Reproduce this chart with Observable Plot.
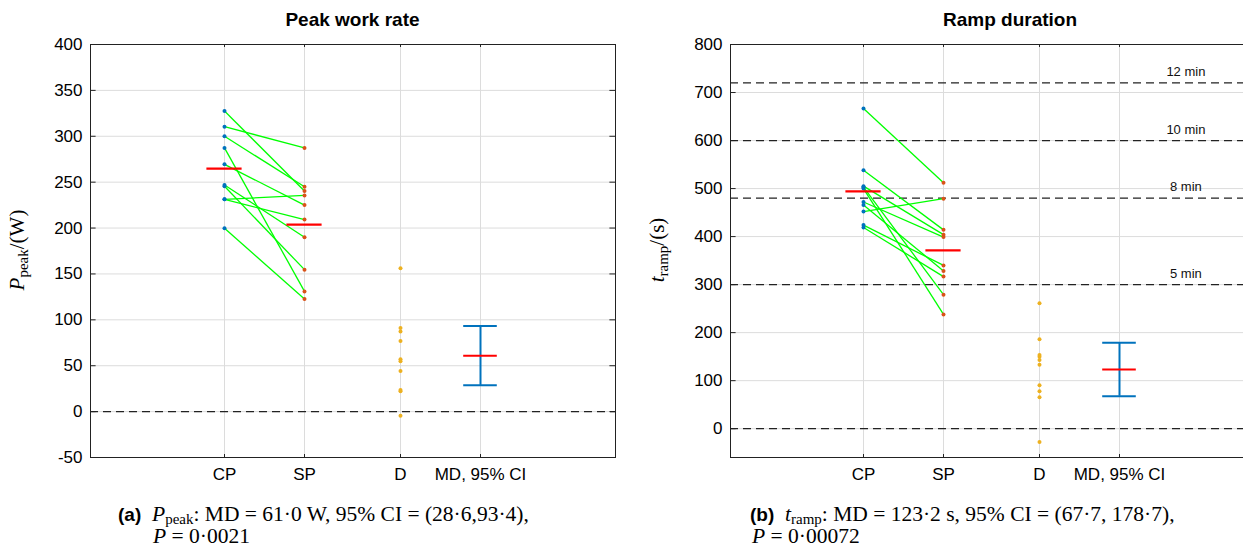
<!DOCTYPE html>
<html>
<head>
<meta charset="utf-8">
<script src="https://cdn.jsdelivr.net/npm/d3@7"></script>
<script src="https://cdn.jsdelivr.net/npm/@observablehq/plot@0.6"></script>
<style>
  html, body { margin: 0; padding: 0; background: #fff; overflow: hidden; width: 1243px; height: 548px; }
  #root { position: relative; width: 1243px; height: 548px; overflow: hidden; background: #fff; }
  .panel { position: absolute; top: 0; height: 490px; overflow: hidden; }
  .panel svg { max-width: none !important; display: block; }
  .title { position: absolute; top: 9px; font: bold 19px "Liberation Sans", Arial, sans-serif; color: #000; text-align: center; }
  .cap { position: absolute; font-family: "Liberation Serif", "DejaVu Serif", serif; font-size: 21.5px; color: #000; white-space: nowrap; line-height: 21px; }
  .cap b { font-family: "Liberation Sans", Arial, sans-serif; font-weight: bold; font-size: 19px; }
  .cap i { font-style: italic; }
  .cap sub { font-size: 15px; vertical-align: -3px; line-height: 0; }
</style>
</head>
<body>
<div id="root">
  <div class="title" style="left:90px;width:525px;">Peak work rate</div>
  <div class="title" style="left:730px;width:560px;">Ramp duration</div>
  <div id="left" class="panel" style="left:0px;width:640px;"></div>
  <div id="right" class="panel" style="left:640px;width:603px;"></div>
  <div class="cap" style="left:118px;top:504px;"><b>(a)</b>&nbsp; <i>P</i><sub>peak</sub>: MD = 61·0 W, 95% CI = (28·6,93·4),</div>
  <div class="cap" style="left:153px;top:526px;"><i>P</i> = 0·0021</div>
  <div class="cap" style="left:750px;top:504px;"><b>(b)</b>&nbsp; <i>t</i><sub>ramp</sub>: MD = 123·2 s, 95% CI = (67·7, 178·7),</div>
  <div class="cap" style="left:752px;top:526px;"><i>P</i> = 0·00072</div>
</div>
<script>
// ---- shared categories ----
const catPos = [1, 2, 3.2, 4.2];
const catLabels = ["CP", "SP", "D", "MD, 95% CI"];

// ---- Peak work rate (W) ----
const peakCP = [327.6, 310.5, 300, 287.3, 269.4, 247, 245.5, 231.3, 231.3, 199.7];
const peakSP = [240.4, 287.3, 245, 131, 225, 190, 154.7, 235.5, 209.2, 122.8];
const peakD = [156.1, 91.2, 87.2, 77, 57, 54.8, 44.3, 23.5, 22.3, -4.4];
const peakMeans = [264.8, 203.7];
const peakMD = 61.0;
const peakCI = [28.6, 93.4];
const peakTicks = [-50, 0, 50, 100, 150, 200, 250, 300, 350, 400];
const peakRefLines = [0];

// ---- Ramp duration (s) ----
const rampCP = [666.7, 538, 505, 503, 500, 472, 466, 452, 424, 419];
const rampSP = [512, 414, 404, 279, 238, 399, 328.5, 479, 340, 316.7];
const rampD = [261, 186, 153.5, 150, 143, 133.3, 90.2, 77.7, 65.2, -27.7];
const rampMeans = [494.3, 371.1];
const rampMD = 123.2;
const rampCI = [67.7, 178.7];
const rampTicks = [0, 100, 200, 300, 400, 500, 600, 700, 800];
const rampRefLines = [720, 600, 480, 300, 0];
const rampRefLabels = ["12 min", "10 min", "8 min", "5 min", ""];

const COL = {cp: "#0072BD", sp: "#D95319", d: "#EDB120", line: "#00FF00", mean: "#FF0000", ci: "#0072BD"};

function panel({cp, sp, d, means, md, ci, xDomain, width, yDomain, yTicks, refLines, refLabels}) {
  const pairs = cp.map((v, i) => ({a: v, b: sp[i]}));
  const tx = 0.07, ty = (yDomain[1] - yDomain[0]) * 0.012;
  const marks = [
    Plot.gridY(yTicks, {stroke: "#dcdcdc", strokeOpacity: 1, strokeWidth: 1}),
    Plot.gridX(catPos, {stroke: "#dcdcdc", strokeOpacity: 1, strokeWidth: 1}),
    Plot.ruleY(refLines, {stroke: "#222", strokeWidth: 1.2, strokeDasharray: "8,5"}),
    Plot.link(pairs, {x1: () => catPos[0], y1: "a", x2: () => catPos[1], y2: "b", stroke: COL.line, strokeWidth: 1.3}),
    Plot.dot(cp, {x: () => catPos[0], y: v => v, r: 2, fill: COL.cp, stroke: null}),
    Plot.dot(sp, {x: () => catPos[1], y: v => v, r: 2, fill: COL.sp, stroke: null}),
    Plot.dot(d, {x: () => catPos[2], y: v => v, r: 2, fill: COL.d, stroke: null}),
    Plot.ruleY([means[0]], {x1: catPos[0] - 0.22, x2: catPos[0] + 0.22, stroke: COL.mean, strokeWidth: 2.2}),
    Plot.ruleY([means[1]], {x1: catPos[1] - 0.22, x2: catPos[1] + 0.22, stroke: COL.mean, strokeWidth: 2.2}),
    Plot.ruleX([catPos[3]], {y1: ci[0], y2: ci[1], stroke: COL.ci, strokeWidth: 2}),
    Plot.ruleY(ci, {x1: catPos[3] - 0.21, x2: catPos[3] + 0.21, stroke: COL.ci, strokeWidth: 2}),
    Plot.ruleY([md], {x1: catPos[3] - 0.21, x2: catPos[3] + 0.21, stroke: COL.mean, strokeWidth: 2}),
    // inward ticks (box style)
    Plot.ruleY(yTicks, {x1: xDomain[0], x2: xDomain[0] + tx, stroke: "#222"}),
    Plot.ruleY(yTicks, {x1: xDomain[1] - tx, x2: xDomain[1], stroke: "#222"}),
    Plot.ruleX(catPos, {y1: yDomain[0], y2: yDomain[0] + ty * 0.6, stroke: "#222"}),
    Plot.ruleX(catPos, {y1: yDomain[1] - ty * 0.6, y2: yDomain[1], stroke: "#222"}),
    Plot.frame({stroke: "#222", strokeWidth: 1}),
    Plot.axisY(yTicks, {tickSize: 0, tickPadding: 8, fontSize: 17, label: null, fill: "#000", tickFormat: d => String(d)}),
    Plot.axisX(catPos, {tickSize: 0, tickPadding: 10, fontSize: 17, label: null, fill: "#000", tickFormat: (v, i) => catLabels[catPos.indexOf(v)]})
  ];
  if (refLabels) {
    marks.push(Plot.text(refLines.map((v, i) => ({v, t: refLabels[i]})).filter(o => o.t), {
      x: () => 5.03, y: "v", text: "t", dy: -11, fontSize: 13, fill: "#111"
    }));
  }
  return Plot.plot({
    width, height: 490,
    marginLeft: 90, marginRight: 25, marginTop: 44, marginBottom: 33,
    x: {domain: xDomain, axis: null},
    y: {domain: yDomain, axis: null},
    style: {fontFamily: "'Liberation Sans', Arial, sans-serif", fontSize: "17px", color: "#000", background: "transparent", overflow: "visible", maxWidth: "none"},
    marks
  });
}

function addYLabel(svg, main, sub, unit) {
  const t = d3.select(svg).append("text")
    .attr("transform", "translate(24,250) rotate(-90)")
    .attr("text-anchor", "middle")
    .attr("font-family", "'Liberation Serif', 'DejaVu Serif', serif")
    .attr("font-size", 21)
    .attr("fill", "#000");
  t.append("tspan").attr("font-style", "italic").text(main);
  t.append("tspan").attr("font-size", 15).attr("dy", 4).text(sub);
  t.append("tspan").attr("dy", -4).text(unit);
}

const left = panel({cp: peakCP, sp: peakSP, d: peakD, means: peakMeans, md: peakMD, ci: peakCI,
  xDomain: [-0.675, 5.8875], width: 640,
  yDomain: [-50, 400], yTicks: peakTicks, refLines: peakRefLines, refLabels: null});
addYLabel(left, "P", "peak", "/(W)");
document.getElementById("left").appendChild(left);

const right = panel({cp: rampCP, sp: rampSP, d: rampD, means: rampMeans, md: rampMD, ci: rampCI,
  xDomain: [-0.6625, 6.3375], width: 675,
  yDomain: [-60, 800], yTicks: rampTicks, refLines: rampRefLines, refLabels: rampRefLabels});
addYLabel(right, "t", "ramp", "/(s)");
document.getElementById("right").appendChild(right);
</script>
</body>
</html>
